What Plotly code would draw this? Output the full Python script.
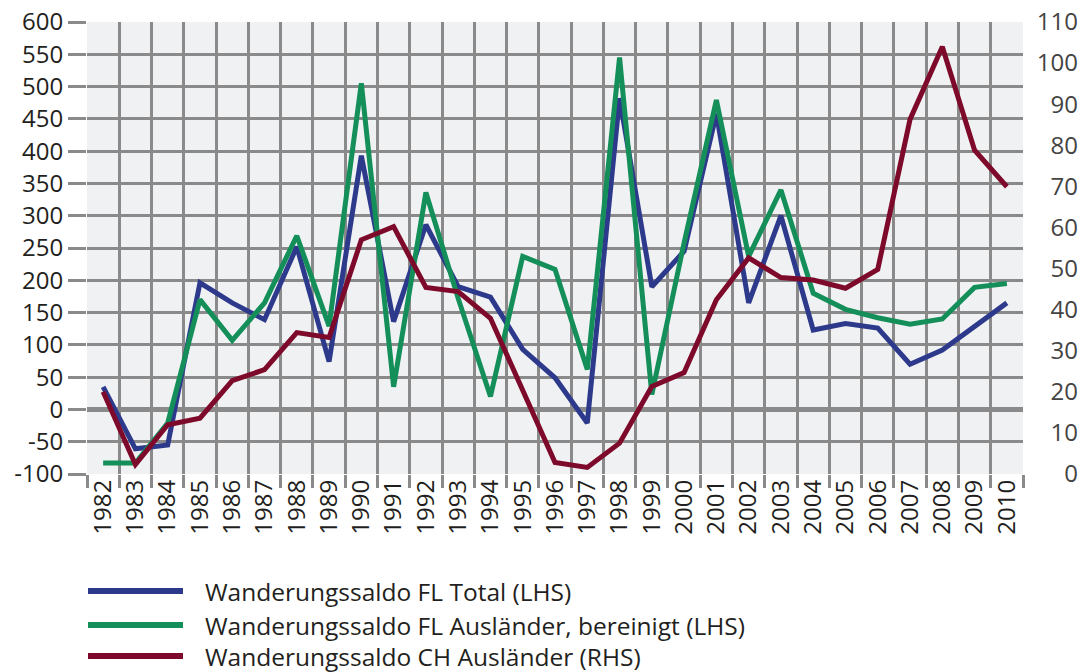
import plotly.graph_objects as go

years = [str(y) for y in range(1982, 2011)]

fl_total = [35, -61, -55, 196, 165, 139, 252, 74, 393, 136, 286, 190, 174, 93, 49, -21,
            482, 190, 245, 458, 165, 300, 123, 133, 126, 70, 92, 128, 165]
fl_auslaender = [-83, -83, -21, 170, 107, 165, 269, 129, 505, 35, 336, 172, 20, 237, 217, 62,
                 545, 23, 258, 479, 237, 340, 180, 155, 142, 132, 140, 189, 195]
ch_auslaender = [20, 2.3, 12, 13.6, 22.7, 25.4, 34.4, 33.2, 57, 60.2, 45.4, 44.4, 37.9, 20.7,
                 2.8, 1.6, 7.5, 21.3, 24.7, 42.4, 52.6, 47.8, 47.2, 45.2, 49.8, 86.3, 104, 78.8, 69.9]

left_ticks = list(range(-100, 601, 50))
left_labels = [str(v) for v in left_ticks]
right_ticks = list(range(0, 111, 10))

names = ["Wanderungssaldo FL Total (LHS)",
         "Wanderungssaldo FL Ausländer, bereinigt (LHS)",
         "Wanderungssaldo CH Ausländer (RHS)"]
colors = ["#2d3a8c", "#148f5a", "#7e0a2b"]

FONT = "Open Sans"
TXT = "#231f20"
GRID = "#8a8a8a"

W, H = 1082, 672
plot_left, plot_right, plot_top, plot_bottom = 87, 1023, 22, 474
label_right = 1081
L, T, B, R = plot_left, plot_top, H - plot_bottom, W - label_right

fig = go.Figure()
fig.add_trace(go.Scatter(x=years, y=fl_total, mode="lines", name=names[0],
                         line=dict(color=colors[0], width=5), yaxis="y"))
fig.add_trace(go.Scatter(x=years, y=fl_auslaender, mode="lines", name=names[1],
                         line=dict(color=colors[1], width=5), yaxis="y"))
fig.add_trace(go.Scatter(x=years, y=ch_auslaender, mode="lines", name=names[2],
                         line=dict(color=colors[2], width=5), yaxis="y2"))

pw = W - L - R
ph = H - T - B
dom_end = (plot_right - L) / pw

fig.update_layout(
    width=W, height=H,
    margin=dict(l=L, r=R, t=T, b=B, pad=0, autoexpand=False),
    paper_bgcolor="white",
    plot_bgcolor="#f0f1f3",
    showlegend=False,
    font=dict(family=FONT, size=24, color=TXT),
    xaxis=dict(type="category", range=[-0.5, 28.5], tickson="boundaries",
               domain=[0, dom_end],
               showgrid=True, gridcolor=GRID, gridwidth=2.5,
               ticks="outside", ticklen=13, tickwidth=2.5, tickcolor=GRID,
               tickangle=-90, tickfont=dict(size=24), showline=False, zeroline=False,
               automargin=False),
    yaxis=dict(range=[-100, 600], tickvals=left_ticks, ticktext=left_labels,
               showgrid=True, gridcolor=GRID,
               gridwidth=2.5, zeroline=True, zerolinecolor=GRID, zerolinewidth=5,
               ticks="outside", ticklen=18, tickwidth=2.5, tickcolor=GRID,
               showline=False, tickfont=dict(size=24), automargin=False,
               ticklabeloverflow="allow"),
    yaxis2=dict(range=[0, 110], tickvals=right_ticks,
                overlaying="y", side="right", anchor="free", position=1.0,
                ticklabelposition="inside", ticklabeloverflow="allow",
                showgrid=False, zeroline=False,
                ticks="", showline=False, tickfont=dict(size=24),
                automargin=False),
)


def px(xp):
    return (xp - L) / pw


def py(yp):
    return (H - B - yp) / ph


rows = [591, 625, 656]
for i, nm in enumerate(names):
    fig.add_shape(type="line", xref="paper", yref="paper",
                  x0=px(88), x1=px(183), y0=py(rows[i]), y1=py(rows[i]),
                  line=dict(color=colors[i], width=6))
    fig.add_annotation(xref="paper", yref="paper", x=px(203), y=py(rows[i]),
                       xanchor="left", yanchor="middle", showarrow=False,
                       text=nm, font=dict(family=FONT, size=24.5, color=TXT))

fig.write_html("out.html",
               config={"displayModeBar": False},
               post_script="document.body.style.margin='0px';"
                           "document.body.style.overflow='hidden';")
